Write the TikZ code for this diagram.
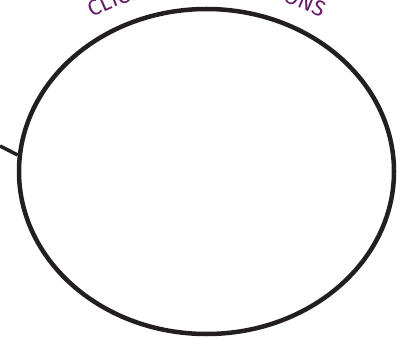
\documentclass[tikz,border=0pt]{standalone}
\usepackage{fontspec}
\setsansfont{Fira Sans}
\usetikzlibrary{shapes.geometric,decorations.text}
\definecolor{plum}{RGB}{102,28,102}
\definecolor{ink}{RGB}{35,31,32}
\newfontfamily\arcfont[LetterSpace=6]{Fira Sans}
\begin{document}
\begin{tikzpicture}[x=1pt,y=-1pt,font=\sffamily]
\useasboundingbox (0,0) rectangle (409,339);
\node[draw=ink,line width=4.5pt,ellipse,inner sep=0pt,minimum width=375pt,minimum height=325pt] (bubble) at (206.5,171.5) {};
\coordinate (tail) at (0,146);
\draw[ink,line width=3.5pt] (tail) -- (bubble.175);
\path[decorate,decoration={text along path,text align=center,text color=plum,
  text={|\arcfont\fontsize{22}{22}\selectfont|CLICK ON THE BUTTONS}}]
  (4.5,110) arc[start angle=-160,end angle=-20,x radius=215,y radius=183];
\end{tikzpicture}
\end{document}
